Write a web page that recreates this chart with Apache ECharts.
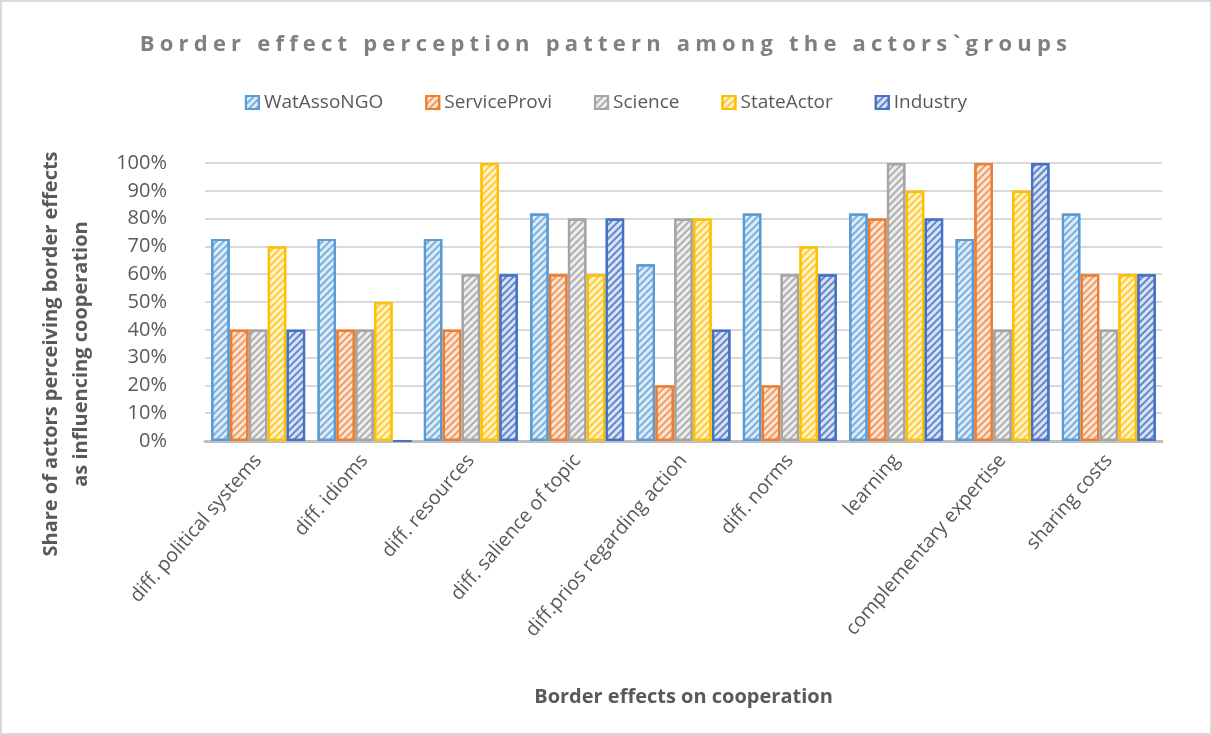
<!DOCTYPE html>
<html>
<head>
<meta charset="utf-8">
<script src="https://cdn.jsdelivr.net/npm/echarts@6/dist/echarts.min.js"></script>
<style>
  html, body { margin: 0; padding: 0; background: #fff; }
  #wrap { position: relative; width: 1212px; height: 735px; box-sizing: border-box; border: 2px solid #d9d9d9; }
  #chart { position: absolute; left: 0; top: 0; width: 1208px; height: 731px; }
  #title { position: absolute; left: 0; width: 1208px; top: 25px; text-align: center;
           font-family: "Open Sans", sans-serif; font-weight: bold; font-size: 22px;
           letter-spacing: 5.2px; color: #808080; }
</style>
</head>
<body>
<div id="wrap">
  <div id="chart"></div>
  <div id="title">Border effect perception pattern among the actors`groups</div>
</div>
<script>
// Border effects on cooperation (x axis categories)
const categories = [
  'diff. political systems', 'diff. idioms', 'diff. resources',
  'diff. salience of topic', 'diff.prios regarding action', 'diff. norms',
  'learning', 'complementary expertise', 'sharing costs'
];
// Share of actors (%) per actor group
const watAssoNGO   = [72.7, 72.7, 72.7, 81.8, 63.6, 81.8, 81.8, 72.7, 81.8];
const serviceProvi = [40, 40, 40, 60, 20, 20, 80, 100, 60];
const science      = [40, 40, 60, 80, 80, 60, 100, 40, 40];
const stateActor   = [70, 50, 100, 60, 80, 70, 90, 90, 60];
const industry     = [40, 0, 60, 80, 40, 60, 80, 100, 60];
const seriesNames  = ['WatAssoNGO', 'ServiceProvi', 'Science', 'StateActor', 'Industry'];
const yTicks = [0, 10, 20, 30, 40, 50, 60, 70, 80, 90, 100];

const palette = [
  { line: '#5b9bd5', fill: '#ddebf7', stripe: 'rgba(91,155,213,0.75)' },
  { line: '#ed7d31', fill: '#fce4d6', stripe: 'rgba(237,125,49,0.7)' },
  { line: '#a5a5a5', fill: '#ededed', stripe: 'rgba(150,150,150,0.7)' },
  { line: '#ffc000', fill: '#fff2cc', stripe: 'rgba(255,192,0,0.75)' },
  { line: '#4472c4', fill: '#d9e1f2', stripe: 'rgba(68,114,196,0.8)' }
];
const values = [watAssoNGO, serviceProvi, science, stateActor, industry];

const FONT = '"Open Sans", sans-serif';
const TXT = '#595959';

const chart = echarts.init(document.getElementById('chart'), null, { renderer: 'canvas' });

const series = seriesNames.map((name, i) => ({
  name,
  type: 'bar',
  data: values[i],
  barWidth: 18.5,
  barGap: '2%',
  itemStyle: {
    color: palette[i].fill,
    borderColor: palette[i].line,
    borderWidth: 2.2,
    decal: {
      symbol: 'rect',
      symbolSize: 1,
      color: palette[i].stripe,
      dashArrayX: [1, 0],
      dashArrayY: [2, 3],
      rotation: -Math.PI / 4
    }
  }
}));

chart.setOption({
  animation: false,
  textStyle: { fontFamily: FONT },
  legend: {
    top: 86,
    left: 'center',
    itemWidth: 13,
    itemHeight: 13,
    itemGap: 42,
    icon: 'rect',
    textStyle: { color: TXT, fontSize: 19, fontFamily: FONT },
    data: seriesNames
  },
  grid: { left: 203, right: 48, top: 161, bottom: 292 },
  xAxis: {
    type: 'category',
    data: categories,
    name: 'Border effects on cooperation',
    nameLocation: 'middle',
    nameGap: 246,
    nameTextStyle: { color: TXT, fontSize: 20, fontWeight: 'bold', fontFamily: FONT },
    axisLine: { lineStyle: { color: '#bfbfbf', width: 3 } },
    axisTick: { show: false },
    axisLabel: { rotate: 49, color: TXT, fontSize: 19.5, margin: 16, interval: 0, fontFamily: FONT }
  },
  yAxis: {
    type: 'value',
    min: 0,
    max: 100,
    interval: 10,
    axisLine: { show: false },
    axisTick: { show: false },
    splitLine: { lineStyle: { color: '#d9d9d9', width: 2 } },
    axisLabel: {
      color: TXT, fontSize: 20, margin: 38, fontFamily: FONT,
      formatter: v => (yTicks.indexOf(v) >= 0 ? v + '%' : '')
    }
  },
  graphic: [{
    type: 'text',
    x: 64,
    y: 352,
    rotation: Math.PI / 2,
    style: {
      text: 'Share of actors perceiving border effects\nas influencing cooperation',
      fill: TXT,
      font: 'bold 20px ' + FONT,
      textAlign: 'center',
      verticalAlign: 'middle',
      lineHeight: 30
    }
  }],
  series
});
</script>
</body>
</html>
